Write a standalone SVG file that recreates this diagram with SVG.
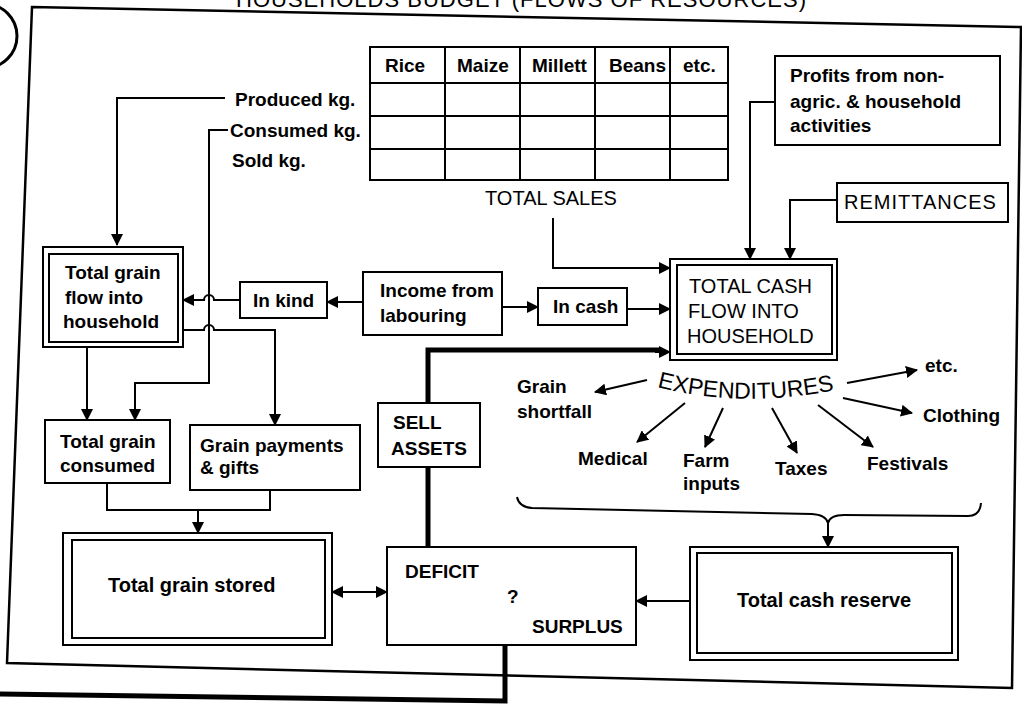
<svg xmlns="http://www.w3.org/2000/svg" width="1022" height="711" viewBox="0 0 1022 711">
<defs>
<marker id="ah" markerWidth="12" markerHeight="12" refX="11" refY="6" orient="auto" markerUnits="userSpaceOnUse">
<path d="M0,0 L12,6 L0,12 Z" fill="#000"/>
</marker>
<marker id="ahs" markerWidth="12" markerHeight="12" refX="11" refY="6" orient="auto-start-reverse" markerUnits="userSpaceOnUse">
<path d="M0,0 L12,6 L0,12 Z" fill="#000"/>
</marker>
<style>
.ln{fill:none;stroke:#000;stroke-width:2}
.thick{fill:none;stroke:#000;stroke-width:5}
.bx{fill:#fff;stroke:#000;stroke-width:2}
.t{font-family:"Liberation Sans",Arial,sans-serif;font-size:19px;font-weight:bold;fill:#000}
.r{font-family:"Liberation Sans",Arial,sans-serif;font-size:20px;font-weight:normal;fill:#000}
.big{font-size:20px}
</style>
</defs>
<rect width="1022" height="711" fill="#fff"/>
<g id="frame">
<text class="r" x="236" y="7" style="font-size:22px" textLength="570">HOUSEHOLDS BUDGET (FLOWS OF RESOURCES)</text>
<polygon points="32,7 1021,27 1012,688 7,663" fill="none" stroke="#000" stroke-width="2.5"/>
<circle cx="-15" cy="36" r="32" fill="none" stroke="#000" stroke-width="3"/>
</g>
<g id="table">
<rect class="bx" x="370" y="47" width="358" height="133"/>
<path class="ln" d="M370 83 H728 M370 116 H728 M370 149 H728 M445 47 V180 M520 47 V180 M595 47 V180 M670 47 V180"/>
<text class="t" x="385" y="72">Rice</text>
<text class="t" x="457" y="72">Maize</text>
<text class="t" x="532" y="72">Millett</text>
<text class="t" x="609" y="72">Beans</text>
<text class="t" x="683" y="72">etc.</text>
</g>
<g id="labels">
<text class="t" x="235" y="106">Produced kg.</text>
<text class="t" x="230" y="137">Consumed kg.</text>
<text class="t" x="232" y="167">Sold kg.</text>
<text class="r" x="485" y="205">TOTAL SALES</text>
</g>
<g id="profits">
<rect class="bx" x="775" y="56" width="225" height="89"/>
<text class="t" x="790" y="82">Profits from non-</text>
<text class="t" x="790" y="108">agric. &amp; household</text>
<text class="t" x="790" y="132">activities</text>
</g>
<g id="remittances">
<rect class="bx" x="837" y="183" width="171" height="39"/>
<text class="r" x="844" y="209" style="letter-spacing:1px">REMITTANCES</text>
</g>
<g id="grainflow">
<rect class="bx" x="43" y="247" width="140" height="100"/>
<rect class="bx" x="49" y="254" width="129" height="88"/>
<text class="t" x="65" y="279">Total grain</text>
<text class="t" x="65" y="304">flow into</text>
<text class="t" x="63" y="328">household</text>
</g>
<g id="inkind">
<rect class="bx" x="240" y="282" width="87" height="36"/>
<text class="t" x="253" y="307">In kind</text>
</g>
<g id="labouring">
<rect class="bx" x="363" y="272" width="139" height="63"/>
<text class="t" x="380" y="297">Income from</text>
<text class="t" x="380" y="322">labouring</text>
</g>
<g id="incash">
<rect class="bx" x="538" y="288" width="89" height="37"/>
<text class="t" x="553" y="313">In cash</text>
</g>
<g id="totalcash">
<rect class="bx" x="670" y="259" width="167" height="101"/>
<rect class="bx" x="677" y="265" width="155" height="89"/>
<text class="r" x="689" y="293">TOTAL CASH</text>
<text class="r" x="688" y="318">FLOW INTO</text>
<text class="r" x="687" y="343">HOUSEHOLD</text>
</g>
<g id="expenditures">
<path id="expcurve" d="M657 387 Q745 410 845 388" fill="none"/>
<text class="r" style="font-size:23px"><textPath href="#expcurve">EXPENDITURES</textPath></text>
<text class="t" x="517" y="393">Grain</text>
<text class="t" x="517" y="418">shortfall</text>
<text class="t" x="925" y="372">etc.</text>
<text class="t" x="923" y="422">Clothing</text>
<text class="t" x="578" y="465">Medical</text>
<text class="t" x="683" y="467">Farm</text>
<text class="t" x="683" y="490">inputs</text>
<text class="t" x="775" y="475">Taxes</text>
<text class="t" x="867" y="470">Festivals</text>
</g>
<g id="consumed">
<rect class="bx" x="45" y="420" width="125" height="63"/>
<text class="t" x="60" y="448">Total grain</text>
<text class="t" x="60" y="472">consumed</text>
</g>
<g id="payments">
<rect class="bx" x="190" y="425" width="170" height="65"/>
<text class="t" x="200" y="452">Grain payments</text>
<text class="t" x="200" y="474">&amp; gifts</text>
</g>
<g id="sellassets">
<rect class="bx" x="378" y="403" width="102" height="64"/>
<text class="t" x="393" y="429">SELL</text>
<text class="t" x="391" y="455">ASSETS</text>
</g>
<g id="grainstored">
<rect class="bx" x="63" y="533" width="269" height="112"/>
<rect class="bx" x="72" y="540" width="253" height="98"/>
<text class="t big" x="108" y="592">Total grain stored</text>
</g>
<g id="deficit">
<rect class="bx" x="387" y="547" width="249" height="98"/>
<text class="t" x="405" y="578">DEFICIT</text>
<text class="t" x="507" y="603">?</text>
<text class="t" x="532" y="633">SURPLUS</text>
</g>
<g id="cashreserve">
<rect class="bx" x="690" y="547" width="268" height="113"/>
<rect class="bx" x="697" y="553" width="255" height="100"/>
<text class="t big" x="737" y="607">Total cash reserve</text>
</g>
<g id="connectors">
<path class="ln" d="M225 98 H117 V245" marker-end="url(#ah)"/>
<path class="ln" d="M228 130 H209 V383 H135 V420" marker-end="url(#ah)"/>
<path class="ln" d="M240 300 H214 A5 5 0 0 0 204 300 H183" marker-end="url(#ah)"/>
<path class="ln" d="M183 330 H204 A5 5 0 0 1 214 330 H275 V425" marker-end="url(#ah)"/>
<path class="ln" d="M363 302 H327" marker-end="url(#ah)"/>
<path class="ln" d="M502 307 H538" marker-end="url(#ah)"/>
<path class="ln" d="M627 309 H670" marker-end="url(#ah)"/>
<path class="ln" d="M553 218 V268 H670" marker-end="url(#ah)"/>
<path class="ln" d="M775 102 H750 V259" marker-end="url(#ah)"/>
<path class="ln" d="M837 200 H790 V259" marker-end="url(#ah)"/>
<path class="ln" d="M87 347 V420" marker-end="url(#ah)"/>
<path class="ln" d="M107 483 V510 H270 V490"/>
<path class="ln" d="M198 510 V533" marker-end="url(#ah)"/>
<path class="ln" d="M332 592 H387" marker-start="url(#ahs)" marker-end="url(#ah)"/>
<path class="ln" d="M690 601 H636" marker-end="url(#ah)"/>
<path class="thick" d="M428 403 V350 H660"/>
<path class="ln" d="M655 352 H670" marker-end="url(#ah)"/>
<path class="thick" d="M428 467 V547"/>
<path class="thick" d="M0 694 L505 701 V645"/>
<path class="ln" d="M517 497 Q519 507 532 508 L812 514 Q826 515 828 523 Q830 515 844 515 L968 516 Q980 516 981 503"/>
<path class="ln" d="M828 523 V547" marker-end="url(#ah)"/>
<path class="ln" d="M647 380 L595 392" stroke-width="2.5" marker-end="url(#ah)"/>
<path class="ln" d="M847 383 L917 370" stroke-width="2.5" marker-end="url(#ah)"/>
<path class="ln" d="M843 398 L912 413" stroke-width="2.5" marker-end="url(#ah)"/>
<path class="ln" d="M685 403 L637 442" stroke-width="2.5" marker-end="url(#ah)"/>
<path class="ln" d="M723 408 L705 447" stroke-width="2.5" marker-end="url(#ah)"/>
<path class="ln" d="M772 408 L797 453" stroke-width="2.5" marker-end="url(#ah)"/>
<path class="ln" d="M818 405 L873 447" stroke-width="2.5" marker-end="url(#ah)"/>
</g>
</svg>
